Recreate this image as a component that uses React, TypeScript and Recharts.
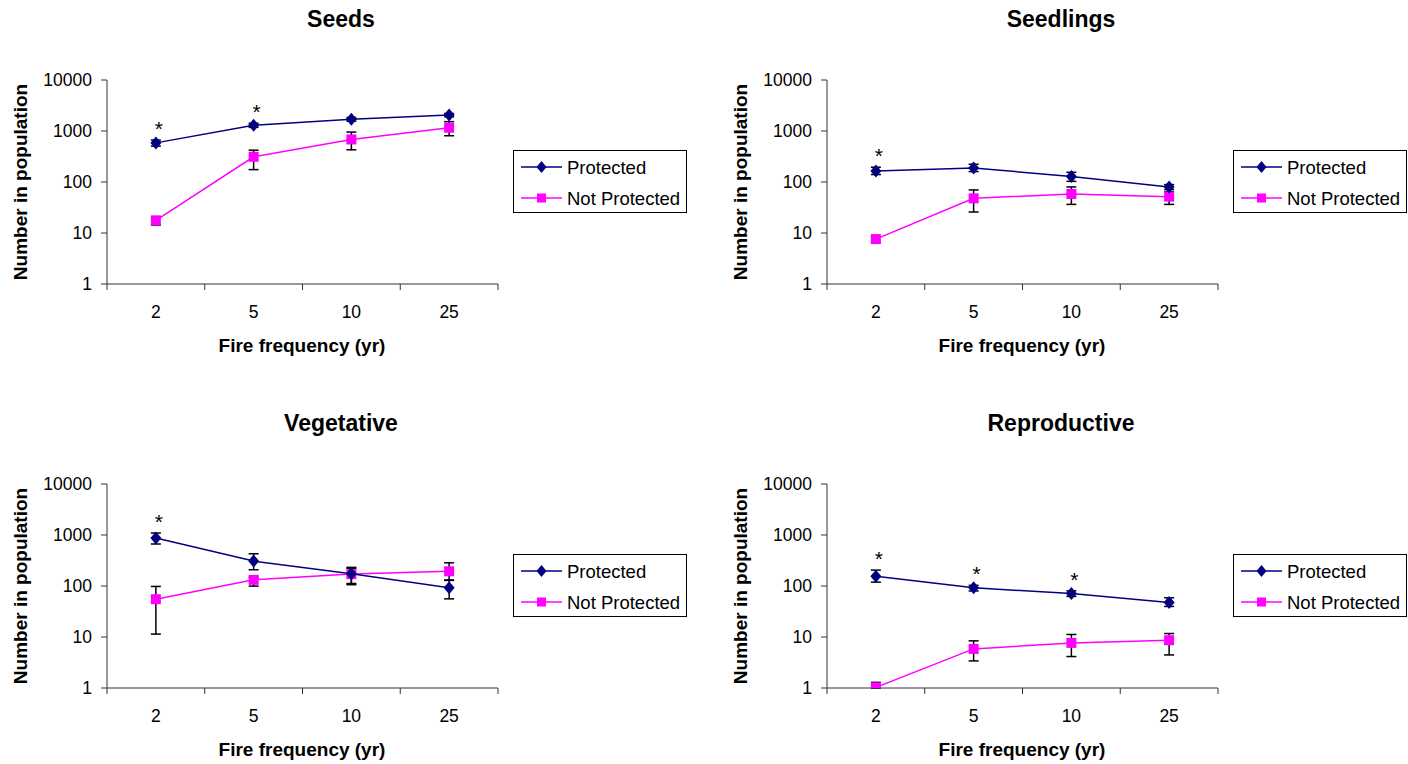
import { LineChart, Line, XAxis, YAxis, ErrorBar, LabelList } from 'recharts';

const FONT = "'Liberation Sans', Arial, sans-serif";
const PROT_COLOR = '#000080';
const NOT_COLOR = '#FF00FF';

const freq = ['2', '5', '10', '25'];
const yTicks = [1, 10, 100, 1000, 10000];

// Seeds
const seedsProt = [585, 1300, 1700, 2050];
const seedsProtLow = [505, 1180, 1560, 1900];
const seedsProtHigh = [665, 1420, 1840, 2200];
const seedsNot = [17.6, 312, 683, 1160];
const seedsNotLow = [14.3, 175, 428, 807];
const seedsNotHigh = [21, 421, 952, 1525];
const seedsSig = [true, true, false, false];

// Seedlings
const seedlingsProt = [165, 189, 128, 80];
const seedlingsProtLow = [140, 160, 103, 71];
const seedlingsProtHigh = [195, 223, 155, 89];
const seedlingsNot = [7.6, 47.8, 58.2, 51.6];
const seedlingsNotLow = [6.5, 25.8, 36.4, 36.4];
const seedlingsNotHigh = [8.3, 69.9, 80, 63.9];
const seedlingsSig = [true, false, false, false];

// Vegetative
const vegProt = [873, 308, 174, 92];
const vegProtLow = [666, 208, 112, 56];
const vegProtHigh = [1094, 429, 232, 129];
const vegNot = [55, 132, 171, 194];
const vegNotLow = [11.4, 99.5, 106, 131];
const vegNotHigh = [98, 148, 222, 285];
const vegSig = [true, false, false, false];

// Reproductive
const reproProt = [156, 92, 71.5, 47.6];
const reproProtLow = [119, 80, 62.5, 39.7];
const reproProtHigh = [205, 103, 80.5, 58.7];
const reproNot = [1.03, 5.84, 7.66, 8.65];
const reproNotLow = [1, 3.4, 4.14, 4.45];
const reproNotHigh = [1.29, 8.4, 11.2, 11.7];
const reproSig = [true, true, true, false];

// chart geometry
const CW = 520;
const CH = 280;
const M = { top: 20, right: 22, bottom: 16, left: 7 };
const YW = 100;
const XH = 40;
const PLOT_W = CW - M.left - M.right - YW;
const AXIS_Y = CH - M.bottom - XH;
const BW = PLOT_W / freq.length;

function makeRows(
  prot: number[], protLow: number[], protHigh: number[],
  not: number[], notLow: number[], notHigh: number[], sig: boolean[]
) {
  return freq.map((f, i) => ({
    freq: f,
    prot: prot[i],
    protErr: [prot[i] - protLow[i], protHigh[i] - prot[i]],
    not: not[i],
    notErr: [not[i] - notLow[i], notHigh[i] - not[i]],
    top: protHigh[i],
    sig: sig[i],
  }));
}

const Diamond = (p: any) => {
  const { cx, cy, index } = p;
  if (cx == null || cy == null) return <g key={`d${index}`} />;
  return (
    <path
      key={`d${index}`}
      d={`M${cx},${cy - 6.5}L${cx + 5.5},${cy}L${cx},${cy + 6.5}L${cx - 5.5},${cy}Z`}
      fill={PROT_COLOR}
    />
  );
};

const Square = (p: any) => {
  const { cx, cy, index } = p;
  if (cx == null || cy == null) return <g key={`s${index}`} />;
  return <rect key={`s${index}`} x={cx - 5} y={cy - 5} width={10} height={10} fill={NOT_COLOR} />;
};

const FreqTick = (p: any) => {
  const { x, payload, index } = p;
  const left = x - BW / 2;
  return (
    <g>
      <line x1={left} x2={left} y1={AXIS_Y} y2={AXIS_Y + 6} stroke="#333" />
      {index === freq.length - 1 && (
        <line x1={x + BW / 2} x2={x + BW / 2} y1={AXIS_Y} y2={AXIS_Y + 6} stroke="#333" />
      )}
      <text x={x} y={AXIS_Y + 34} textAnchor="middle" fontSize={17.5} fontFamily={FONT} fill="#000">
        {payload.value}
      </text>
    </g>
  );
};

function Legend({ left, top }: { left: number; top: number }) {
  return (
    <svg style={{ position: 'absolute', left, top }} width={175} height={64}>
      <rect x={0.5} y={0.5} width={173} height={62} fill="#fff" stroke="#000" />
      <line x1={8} x2={49} y1={17} y2={17} stroke={PROT_COLOR} strokeWidth={1.5} />
      <path d="M28.5,11L33.5,17L28.5,23L23.5,17Z" fill={PROT_COLOR} />
      <text x={54} y={23.5} fontSize={18.5} fontFamily={FONT} fill="#000">Protected</text>
      <line x1={8} x2={49} y1={48} y2={48} stroke={NOT_COLOR} strokeWidth={1.5} />
      <rect x={24} y={43.5} width={9} height={9} fill={NOT_COLOR} />
      <text x={54} y={54.5} fontSize={18.5} fontFamily={FONT} fill="#000">Not Protected</text>
    </svg>
  );
}

function Panel({ title, rows, dx, dy }: { title: string; rows: any[]; dx: number; dy: number }) {
  const renderStar = (p: any) => {
    const { x, y, index } = p;
    if (!rows[index] || !rows[index].sig) return null;
    return (
      <text key={`st${index}`} x={x + 3} y={y - 4} textAnchor="middle" fontSize={21} fontFamily={FONT} fill="#000">
        *
      </text>
    );
  };
  return (
    <>
      <div
        style={{
          position: 'absolute', left: dx + 341, top: dy + 19, transform: 'translate(-50%, -50%)',
          fontFamily: FONT, fontWeight: 'bold', fontSize: 23, whiteSpace: 'nowrap',
        }}
      >
        {title}
      </div>
      <div
        style={{
          position: 'absolute', left: dx + 21, top: dy + 182, transform: 'translate(-50%, -50%) rotate(-90deg)',
          fontFamily: FONT, fontWeight: 'bold', fontSize: 19, whiteSpace: 'nowrap',
        }}
      >
        Number in population
      </div>
      <div
        style={{
          position: 'absolute', left: dx + 302, top: dy + 346, transform: 'translate(-50%, -50%)',
          fontFamily: FONT, fontWeight: 'bold', fontSize: 19, whiteSpace: 'nowrap',
        }}
      >
        Fire frequency (yr)
      </div>
      <div style={{ position: 'absolute', left: dx, top: dy + 60 }}>
        <LineChart width={CW} height={CH} data={rows} margin={M}>
          <XAxis
            dataKey="freq"
            height={XH}
            interval={0}
            padding={{ left: BW / 2, right: BW / 2 }}
            tickLine={false}
            axisLine={{ stroke: '#333' }}
            tick={<FreqTick />}
          />
          <YAxis
            type="number"
            scale="log"
            domain={[1, 10000]}
            ticks={yTicks}
            allowDataOverflow
            width={YW}
            tickSize={6}
            tickMargin={9}
            axisLine={{ stroke: '#333' }}
            tickLine={{ stroke: '#333' }}
            tick={{ fontSize: 17.5, fill: '#000', fontFamily: FONT }}
          />
          <Line
            dataKey="top"
            stroke="none"
            dot={false}
            activeDot={false}
            legendType="none"
            isAnimationActive={false}
          >
            <LabelList dataKey="top" content={renderStar} />
          </Line>
          <Line
            dataKey="not"
            stroke={NOT_COLOR}
            strokeWidth={1.5}
            dot={Square}
            activeDot={false}
            isAnimationActive={false}
          >
            <ErrorBar dataKey="notErr" width={5} stroke="#000" strokeWidth={1.5} direction="y" />
          </Line>
          <Line
            dataKey="prot"
            stroke={PROT_COLOR}
            strokeWidth={1.5}
            dot={Diamond}
            activeDot={false}
            isAnimationActive={false}
          >
            <ErrorBar dataKey="protErr" width={5} stroke="#000" strokeWidth={1.5} direction="y" />
          </Line>
        </LineChart>
      </div>
      <Legend left={dx + 513} top={dy + 150} />
    </>
  );
}

export default function App() {
  const seeds = makeRows(seedsProt, seedsProtLow, seedsProtHigh, seedsNot, seedsNotLow, seedsNotHigh, seedsSig);
  const seedlings = makeRows(
    seedlingsProt, seedlingsProtLow, seedlingsProtHigh, seedlingsNot, seedlingsNotLow, seedlingsNotHigh, seedlingsSig
  );
  const veg = makeRows(vegProt, vegProtLow, vegProtHigh, vegNot, vegNotLow, vegNotHigh, vegSig);
  const repro = makeRows(reproProt, reproProtLow, reproProtHigh, reproNot, reproNotLow, reproNotHigh, reproSig);

  return (
    <div style={{ position: 'absolute', left: 0, top: 0, width: 1408, height: 764, background: '#fff' }}>
      <Panel title="Seeds" rows={seeds} dx={0} dy={0} />
      <Panel title="Seedlings" rows={seedlings} dx={720} dy={0} />
      <Panel title="Vegetative" rows={veg} dx={0} dy={404} />
      <Panel title="Reproductive" rows={repro} dx={720} dy={404} />
    </div>
  );
}
